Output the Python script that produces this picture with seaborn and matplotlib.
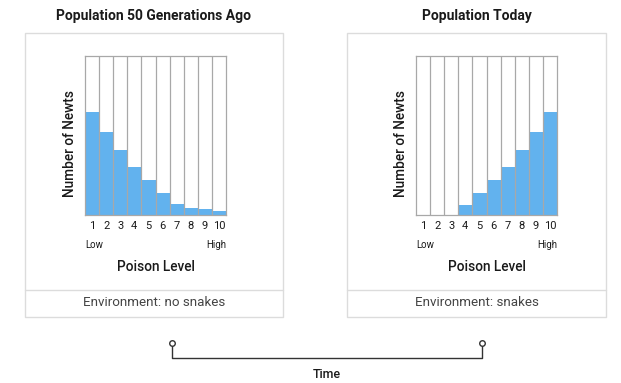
import matplotlib
matplotlib.use("Agg")
import matplotlib.pyplot as plt
from matplotlib.patches import Rectangle
import seaborn as sns
import pandas as pd

# Data (relative number of newts per poison level)
poison_levels = ["1", "2", "3", "4", "5", "6", "7", "8", "9", "10"]
newts_past = [65, 52, 41, 30, 22, 14, 7, 4.5, 3.5, 2.5]
newts_today = [0, 0, 0, 6, 14, 22, 30, 41, 52, 65]

panel_titles = ["Population 50 Generations Ago", "Population Today"]
environments = ["Environment: no snakes", "Environment: snakes"]

BLUE = "#62b2ee"
GRID = "#a8a8a8"
BOX = "#dcdcdc"
TEXT = "#1a1a1a"

W, H = 621, 383

sns.set_theme(style="white")
plt.rcParams["font.family"] = ["Roboto", "DejaVu Sans"]


def px_rect(x0, y0, x1, y1):
    # pixel box (top-left origin) -> figure fraction rect
    return [x0 / W, 1 - y1 / H, (x1 - x0) / W, (y1 - y0) / H]


def draw_panel(ax, values):
    df = pd.DataFrame({"Poison Level": poison_levels, "Newts": values})
    sns.barplot(data=df, x="Poison Level", y="Newts", color=BLUE, width=1,
                edgecolor="none", saturation=1, ax=ax)
    ax.set_ylim(0, 100)
    ax.set_xlim(-0.5, len(poison_levels) - 0.5)
    for i in range(1, len(poison_levels)):
        ax.axvline(i - 0.5, color=GRID, lw=0.9, zorder=3)
    for s in ax.spines.values():
        s.set_visible(True)
        s.set_color(GRID)
        s.set_linewidth(0.9)
    ax.set_yticks([])
    ax.tick_params(axis="x", length=0, pad=4, labelsize=8, labelcolor=TEXT)
    ax.set_xlabel("Poison Level", fontsize=9.8, fontweight="medium", color=TEXT)
    ax.xaxis.set_label_coords(0.5, -0.285)
    ax.set_ylabel("Number of Newts", fontsize=9.8, fontweight="medium", color=TEXT)
    ax.yaxis.set_label_coords(-0.06, 0.45)
    ax.text(0.0, -0.19, "Low", transform=ax.transAxes, fontsize=7,
            ha="left", va="center", color=TEXT)
    ax.text(1.0, -0.19, "High", transform=ax.transAxes, fontsize=7,
            ha="right", va="center", color=TEXT)


fig = plt.figure(figsize=(W / 100, H / 100), dpi=100)

# background layer in pixel coordinates for boxes and the time bracket
bg = fig.add_axes([0, 0, 1, 1])
bg.set_xlim(0, W)
bg.set_ylim(H, 0)
bg.axis("off")

boxes = [(25, 283), (347, 606)]
for (x0, x1), title, env in zip(boxes, panel_titles, environments):
    bg.add_patch(Rectangle((x0, 33), x1 - x0, 317 - 33, fill=False,
                           edgecolor=BOX, lw=1))
    bg.plot([x0, x1], [290, 290], color=BOX, lw=1)
    cx = (x0 + x1) / 2
    bg.text(cx, 16, title, ha="center", va="center", fontsize=10,
            fontweight="bold", color=TEXT)
    bg.text(cx, 303, env, ha="center", va="center", fontsize=9.6,
            color="#444444")

# time bracket
bg.plot([172, 172, 482, 482], [343, 358, 358, 343], color="#333333", lw=1)
bg.plot([172, 482], [343, 343], "o", ms=4, mfc="white", mec="#333333", mew=1)
bg.text(327, 374, "Time", ha="center", va="center", fontsize=9,
        fontweight="medium", color=TEXT)

ax_past = fig.add_axes(px_rect(85, 56, 226, 215))
draw_panel(ax_past, newts_past)

ax_today = fig.add_axes(px_rect(416, 56, 557, 215))
draw_panel(ax_today, newts_today)

fig.savefig("out.png", dpi=100, facecolor="white")
